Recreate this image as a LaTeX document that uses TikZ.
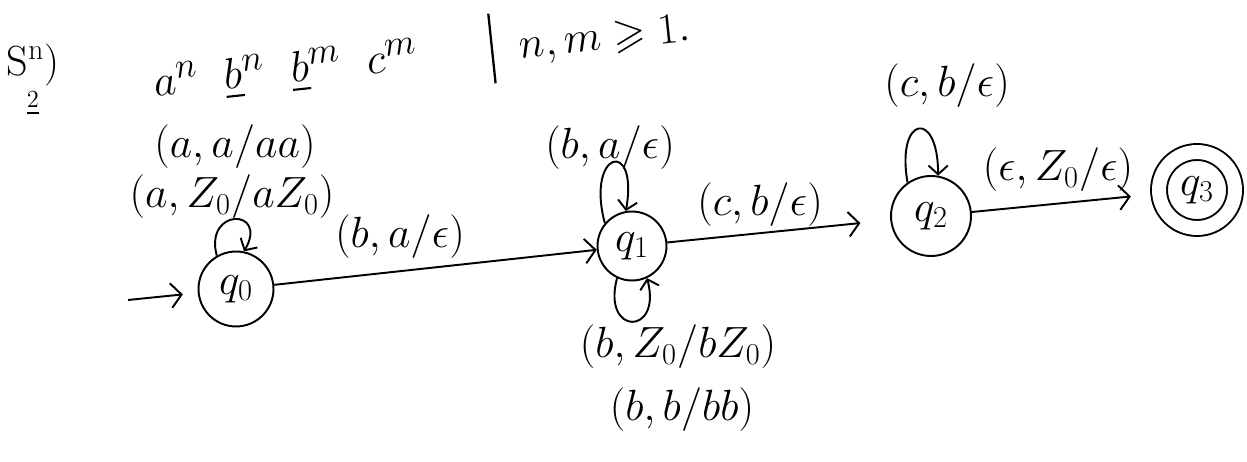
\documentclass[tikz,border=0pt]{standalone}
\usepackage{amssymb}
\usetikzlibrary{arrows.meta}
\begin{document}
\begin{tikzpicture}[x=0.02cm,y=0.02cm,
  pdastate/.style={circle,draw,line width=1.1pt,inner sep=0pt,font=\fontsize{24}{28}\selectfont},
  lbl/.style={font=\fontsize{24}{28}\selectfont,inner sep=0pt},
  conn/.style={line width=1.1pt,-{Straight Barb[length=6pt,width=14pt,line width=1.1pt]}},
  loopc/.style={line width=1.1pt,-{Straight Barb[length=5pt,width=11pt,line width=1.1pt]}}]
\useasboundingbox (0,0) rectangle (1247,462);

% header
\node[align=center,font=\fontsize{24}{24}\selectfont,inner sep=0pt] (sol) at (33,382) {S\textsuperscript{n})\\[-6pt]\underline{\fontsize{14}{14}\selectfont 2}};
\node[font=\fontsize{30}{36}\selectfont,rotate=6,anchor=base west,inner sep=0pt] (title) at (155,365)
  {$a^{n}\hspace{0.5em}\underline{b}^{n}\hspace{0.5em}\underline{b}^{m}\hspace{0.5em}c^{m}$\hspace{1.4em}\rule[-0.44cm]{1.3pt}{1.4cm}\hspace{0.5em}{\fontsize{24}{28}\selectfont$n,m\geqslant 1.$}};

% states
\node[pdastate,minimum size=1.5cm] (q0) at (236,173) {$q_0$};
\node[pdastate,minimum size=1.38cm] (q1) at (632,216) {$q_1$};
\node[pdastate,minimum size=1.6cm] (q2) at (931,246) {$q_2$};
\node[pdastate,minimum size=1.52cm,double,double distance=0.28cm] (q3) at (1197,272) {$q_3$};

% transitions
\coordinate (start) at (128,162);
\draw[conn,shorten >=0.3cm] (start) -- (q0);
\draw[conn] (q0) -- (q1);
\draw[conn,shorten >=0.6cm] (q1) -- (q2);
\draw[conn,shorten >=0.55cm] (q2) -- (q3);

% loops
\draw[loopc] (q0.120) to[out=105,in=60,distance=1.0cm] (q0.78);
\draw[loopc] (q1.140) to[out=105,in=80,distance=1.5cm] (q1.100);
\draw[loopc] (q1.245) to[out=255,in=285,distance=1.2cm] (q1.295);
\draw[loopc] (q2.125) to[out=100,in=90,distance=1.35cm] (q2.80);

% labels
\node[lbl] (l0a) at (235,315) {$(a,a/aa)$};
\node[lbl] (l0b) at (232,265) {$(a,Z_0/aZ_0)$};
\node[lbl] (l01) at (400,225) {$(b,a/\epsilon)$};
\node[lbl] (l1a) at (610,314) {$(b,a/\epsilon)$};
\node[lbl] (l1b) at (678,115) {$(b,Z_0/bZ_0)$};
\node[lbl] (l1c) at (682,52) {$(b,b/bb)$};
\node[lbl] (l12) at (760,257) {$(c,b/\epsilon)$};
\node[lbl] (l2a) at (947,376) {$(c,b/\epsilon)$};
\node[lbl] (l23) at (1058,292) {$(\epsilon,Z_0/\epsilon)$};
\end{tikzpicture}
\end{document}
